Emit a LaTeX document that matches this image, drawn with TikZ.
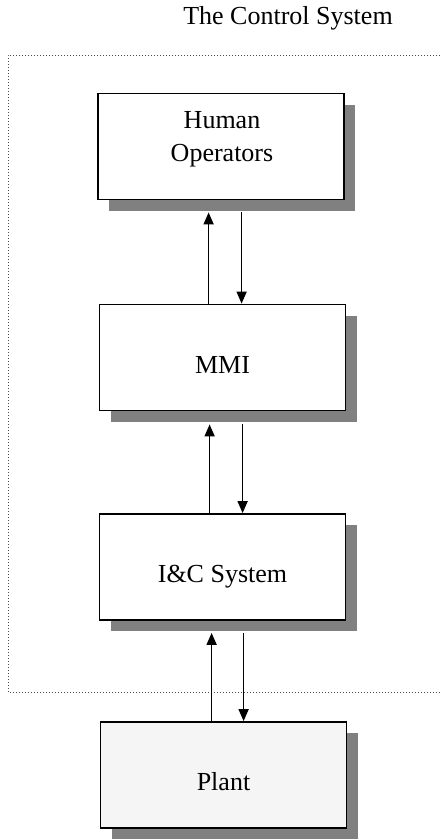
\documentclass[tikz,border=0pt]{standalone}
\usepackage{fontspec}
\setmainfont{Liberation Serif}
\usetikzlibrary{arrows.meta,shadows}
\begin{document}
\begin{tikzpicture}[x=1pt,y=-1pt,
  blk/.style={draw=black, line width=1.8pt, fill=white, minimum width=246pt, minimum height=106pt, inner sep=0pt,
    drop shadow={shadow xshift=11pt, shadow yshift=-11pt, fill=black!50, opacity=1}},
  lbl/.style={font=\fontsize{26}{33}\selectfont, align=center, inner sep=0pt},
  arr/.style={line width=1.6pt, -{Triangle[length=12pt,width=10pt]}},
  frame/.style={black!70, line width=1pt, dotted}
]
\useasboundingbox (0,0) rectangle (440,839);
\node[lbl, anchor=base] (title) at (288,24) {The Control System};
\draw[frame] (440,55) -- (8,55) -- (8,692) -- (440,692);
\node[blk] (ho) at (221,146.5) {};
\node[blk] (mmi) at (222.5,357.5) {};
\node[blk] (ic) at (222.5,567) {};
\node[blk, fill=black!4] (plant) at (223.5,775) {};
\node[lbl] (holbl) at (222,139) {Human\\Operators};
\node[lbl, anchor=base] (mmilbl) at (222.5,373) {MMI};
\node[lbl, anchor=base] (iclbl) at (222.5,582) {I\&C System};
\node[lbl, anchor=base] (plantlbl) at (223.5,790) {Plant};
% arrow anchor points
\coordinate (hoS) at ([yshift=-12pt]ho.south);
\coordinate (mmiS) at ([yshift=-13pt]mmi.south);
\coordinate (icS) at ([yshift=-12pt]ic.south);
\coordinate (u1) at ([xshift=110pt]mmi.north west);
\coordinate (d1) at ([xshift=143pt]mmi.north west);
\coordinate (u2) at ([xshift=111pt]ic.north west);
\coordinate (d2) at ([xshift=144pt]ic.north west);
\coordinate (u3) at ([xshift=112pt]plant.north west);
\coordinate (d3) at ([xshift=144pt]plant.north west);
% arrows
\draw[arr] (u1) -- (u1 |- hoS);
\draw[arr] (d1 |- hoS) -- (d1);
\draw[arr] (u2) -- (u2 |- mmiS);
\draw[arr] (d2 |- mmiS) -- (d2);
\draw[arr] (u3) -- (u3 |- icS);
\draw[arr] (d3 |- icS) -- (d3);
\end{tikzpicture}
\end{document}
